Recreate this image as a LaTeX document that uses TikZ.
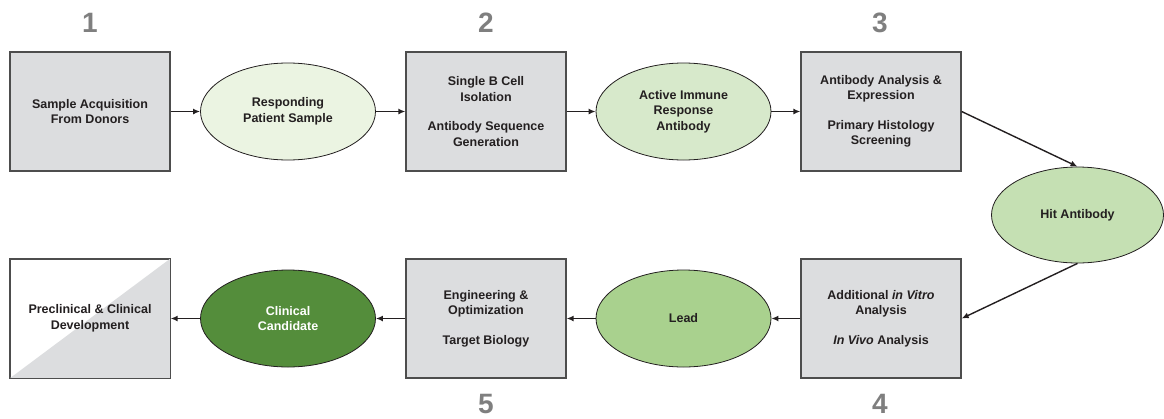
\documentclass[tikz,border=0pt]{standalone}
\usepackage{fontspec}
\setmainfont{Liberation Sans}
\usetikzlibrary{shapes.geometric,arrows.meta}
\definecolor{boxgray}{HTML}{DCDDDF}
\definecolor{edgegray}{HTML}{4D4D4D}
\definecolor{greenA}{HTML}{EBF4E2}
\definecolor{greenB}{HTML}{D7E9CB}
\definecolor{greenC}{HTML}{C5E0B3}
\definecolor{greenD}{HTML}{A9D18E}
\definecolor{greenE}{HTML}{548D3B}
\definecolor{numgray}{HTML}{7F7F7F}
\definecolor{ink}{HTML}{231F20}
\tikzset{
  stage/.style={rectangle, draw=edgegray, line width=1.3pt, fill=boxgray,
    minimum width=160pt, minimum height=119pt, inner sep=0pt,
    align=center, text=ink,
    font=\fontsize{12.5pt}{15.5pt}\selectfont\bfseries},
  result/.style={ellipse, draw=ink, line width=0.8pt,
    minimum width=175pt, minimum height=97pt, inner sep=0pt,
    align=center, text=ink,
    font=\fontsize{12.5pt}{15.5pt}\selectfont\bfseries},
  stepnum/.style={text=numgray, font=\fontsize{28pt}{30pt}\selectfont\bfseries},
  flow/.style={draw=ink, line width=1.4pt, -{Latex[length=7pt,width=6pt]}}
}
\begin{document}
\begin{tikzpicture}[x=1pt,y=-1pt]
\useasboundingbox (0,0) rectangle (1164,418);

% step numbers
\node[stepnum] (n1) at (90,23) {1};
\node[stepnum] (n2) at (486,23) {2};
\node[stepnum] (n3) at (880,23) {3};
\node[stepnum] (n4) at (880,404) {4};
\node[stepnum] (n5) at (486,404) {5};

% upper row
\node[stage] (b1) at (90,111.5) {Sample Acquisition\\From Donors};
\node[result, fill=greenA] (e1) at (288,111.5) {Responding\\Patient Sample};
\node[stage] (b2) at (486,111.5) {Single B Cell\\Isolation\\[14pt]Antibody Sequence\\Generation};
\node[result, fill=greenB] (e2) at (683.5,111.5) {Active Immune\\Response\\Antibody};
\node[stage] (b3) at (881,111.5) {Antibody Analysis \&\\Expression\\[14pt]Primary Histology\\Screening};

% turning point
\node[result, fill=greenC, minimum width=172pt, minimum height=96pt] (hit) at (1077.5,215) {Hit Antibody};

% lower row
\node[stage] (b4) at (881,318.5) {Additional \textit{in Vitro}\\Analysis\\[14pt]\textit{In Vivo} Analysis};
\node[result, fill=greenD] (lead) at (683.5,318.5) {Lead};
\node[stage] (b5) at (486,318.5) {Engineering \&\\Optimization\\[14pt]Target Biology};
\node[result, fill=greenE, text=white] (cc) at (288,318.5) {Clinical\\Candidate};
\node[stage, fill=white] (b6) at (90,318.5) {};
\fill[boxgray] (b6.south west) -- (b6.south east) -- (b6.north east) -- cycle;
\draw[edgegray, line width=1.3pt] (b6.south west) rectangle (b6.north east);
\node[align=center, text=ink, font=\fontsize{12.5pt}{15.5pt}\selectfont\bfseries] (b6t) at (b6.center) {Preclinical \& Clinical\\Development};

% connectors
\draw[flow] (b1) -- (e1);
\draw[flow] (e1) -- (b2);
\draw[flow] (b2) -- (e2);
\draw[flow] (e2) -- (b3);
\draw[flow] (b3.east) -- (hit.north);
\draw[flow] (hit.south) -- (b4.east);
\draw[flow] (b4) -- (lead);
\draw[flow] (lead) -- (b5);
\draw[flow] (b5) -- (cc);
\draw[flow] (cc) -- (b6);
\end{tikzpicture}
\end{document}
